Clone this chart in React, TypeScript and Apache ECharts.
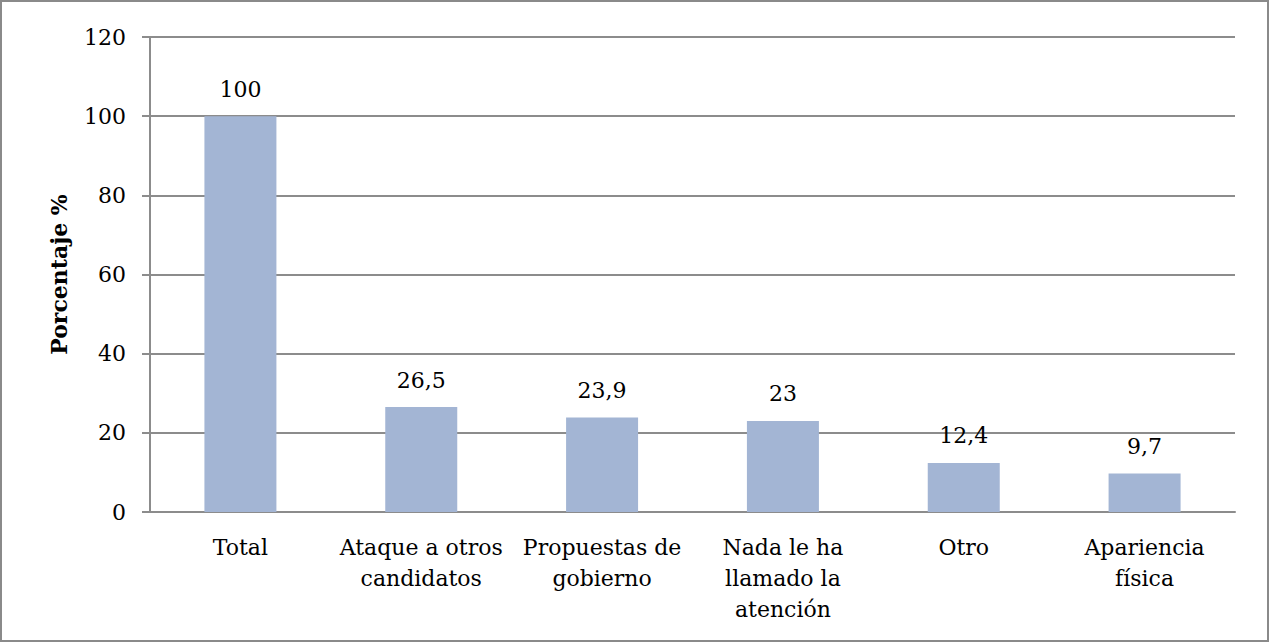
import React, { useEffect, useRef } from "react";
import * as echarts from "echarts";

const categories = [
  "Total",
  "Ataque a otros\ncandidatos",
  "Propuestas de\ngobierno",
  "Nada le ha\nllamado la\natención",
  "Otro",
  "Apariencia\nfísica",
];
const values = [100, 26.5, 23.9, 23, 12.4, 9.7];
const yTicks = { min: 0, max: 120, interval: 20 };
const yTitle = "Porcentaje %";

const FONT = "'DejaVu Serif', serif";

export default function App() {
  const ref = useRef<HTMLDivElement>(null);
  useEffect(() => {
    document.body.style.margin = "0";
    const chart = echarts.init(ref.current!, null, { renderer: "svg" });
    chart.setOption({
      animation: false,
      backgroundColor: "#ffffff",
      graphic: [
        {
          type: "rect",
          shape: { x: 1, y: 1, width: 1267, height: 640 },
          style: { fill: "none", stroke: "#8a8a8a", lineWidth: 2 },
          z: 100,
        },
      ],
      grid: { left: 150, right: 35, top: 37, bottom: 131, containLabel: false },
      xAxis: {
        type: "category",
        data: categories,
        axisLine: { lineStyle: { color: "#8c8c8c", width: 2 } },
        axisTick: { show: false },
        axisLabel: {
          interval: 0,
          color: "#000",
          fontFamily: FONT,
          fontSize: 22,
          lineHeight: 31,
          margin: 20,
        },
      },
      yAxis: {
        type: "value",
        min: yTicks.min,
        max: yTicks.max,
        interval: yTicks.interval,
        name: yTitle,
        nameLocation: "middle",
        nameGap: 80,
        nameTextStyle: {
          color: "#000",
          fontFamily: FONT,
          fontSize: 22,
          fontWeight: "bold",
        },
        axisLine: { show: true, lineStyle: { color: "#8c8c8c", width: 2 } },
        axisTick: { show: true, length: 8, lineStyle: { color: "#8c8c8c", width: 2 } },
        splitLine: { lineStyle: { color: "#8c8c8c", width: 2 } },
        axisLabel: {
          color: "#000",
          fontFamily: FONT,
          fontSize: 22,
          margin: 24,
        },
      },
      series: [
        {
          type: "bar",
          data: values,
          barWidth: 72,
          itemStyle: { color: "#a3b5d4" },
          label: {
            show: true,
            position: "top",
            distance: 16,
            color: "#000",
            fontFamily: FONT,
            fontSize: 22,
            formatter: (p: any) => String(p.value).replace(".", ","),
          },
        },
      ],
    });
    return () => chart.dispose();
  }, []);
  return (
    <div
      ref={ref}
      style={{ position: "absolute", left: 0, top: 0, width: 1270, height: 643 }}
    />
  );
}
